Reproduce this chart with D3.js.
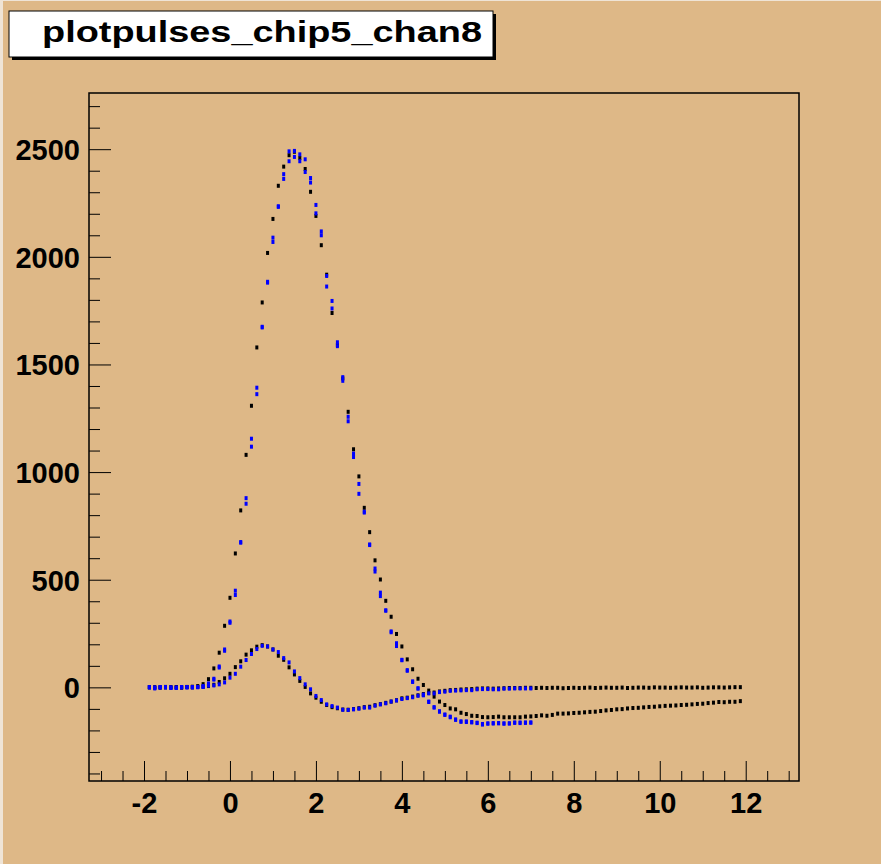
<!DOCTYPE html>
<html>
<head>
<meta charset="utf-8">
<script src="https://cdn.jsdelivr.net/npm/d3@7"></script>
<style>
  html, body { margin: 0; padding: 0; background: #DEB887; }
  svg { display: block; }
  .lbl { font-family: "Liberation Sans", Arial, Helvetica, sans-serif; font-weight: bold; }
</style>
</head>
<body>
<svg id="chart" width="881" height="864"></svg>
<script>
// Sample times (one sample every 1/8 unit)
const sampleTime = [
  -1.875,-1.75,-1.625,-1.5,-1.375,-1.25,-1.125,-1,-0.875,-0.75,-0.625,-0.5,-0.375,-0.25,-0.125,
  0,0.125,0.25,0.375,0.5,0.625,0.75,0.875,1,1.125,1.25,1.375,1.5,1.625,1.75,1.875,
  2,2.125,2.25,2.375,2.5,2.625,2.75,2.875,3,3.125,3.25,3.375,3.5,3.625,3.75,3.875,
  4,4.125,4.25,4.375,4.5,4.625,4.75,4.875,5,5.125,5.25,5.375,5.5,5.625,5.75,5.875,
  6,6.125,6.25,6.375,6.5,6.625,6.75,6.875,7,7.125,7.25,7.375,7.5,7.625,7.75,7.875,
  8,8.125,8.25,8.375,8.5,8.625,8.75,8.875,9,9.125,9.25,9.375,9.5,9.625,9.75,9.875,
  10,10.125,10.25,10.375,10.5,10.625,10.75,10.875,11,11.125,11.25,11.375,11.5,11.625,11.75,11.875
];

// Large pulse, black
const blackBig = [
  1,-2,0,2,-1,1,0,2,3,6,
  15,38,88,161,286,416,622,822,1080,1308,1579,1788,2018,2176,2330,2419,2472,2488,2459,2408,
  2302,2190,2054,1917,1739,1590,1435,1280,1106,980,834,721,590,501,402,328,248,190,130,84,
  40,11,-15,-43,-66,-82,-98,-102,-118,-124,-132,-133,-138,-139,-138,-136,-139,-139,-139,-139,
  -136,-135,-133,-130,-132,-128,-122,-122,-121,-119,-118,-116,-114,-113,-110,-107,-105,-102,-101,-98,
  -96,-95,-93,-91,-90,-88,-86,-85,-84,-82,-81,-79,-77,-76,-73,-71,-68,-69,-67,-67,-64
];

// Small pulse, black
const blackSmall = [
  0,1,-1,0,1,0,-1,1,0,2,
  3,6,12,25,42,63,94,121,152,172,189,196,190,176,147,128,93,60,30,2,
  -28,-48,-67,-82,-92,-97,-103,-104,-101,-97,-92,-90,-83,-78,-72,-66,-60,-51,-48,-43,
  -37,-31,-26,-24,-19,-16,-13,-12,-10,-9,-8,-6,-5,-5,-6,-5,-4,-3,-3,-3,
  -2,-2,-3,-2,-3,-2,-2,-4,-3,-2,-3,-2,-1,-3,-2,-1,-2,-2,-1,-3,
  -2,-1,-1,-2,0,-1,-1,-2,-1,0,-1,-1,0,-2,-1,0,0,-1,0,1,1
];

// Large pulse, blue (two passes)
const blueBigA = [
  0,-3,1,0,-2,-1,1,0,1,2,
  6,18,40,97,176,306,449,675,879,1155,1392,1675,1884,2089,2235,2384,2490,2492,2476,2453,
  2366,2241,2118,1911,1795,1603,1441,1257,1086,945,816,664,552,440,358,260,205,128,80,28,
  -4,-35,-66,-92,-111,-126,-136,-149,-158,-158,-161,-164,-173,-167,-166,-166,-167,-167,-163,-163,
  -163,-163
];
const blueBigB = [
  1,0,-1,1,0,-2,0,1,0,1,
  2,12,36,92,170,300,429,672,853,1118,1362,1672,1880,2069,2232,2362,2444,2464,2444,2394,
  2345,2202,2100,1862,1760,1585,1424,1236,1070,899,812,661,538,424,356,256,192,126,77,25,
  -6,-37,-68,-94,-113,-128,-139,-151,-160,-161,-163,-166,-170,-169,-168,-167,-169,-168,-165,-166,
  -165,-164
];

// Small pulse, blue
const blueSmall = [
  1,-5,1,1,-2,-2,1,1,1,1,
  3,8,9,14,23,45,63,96,127,155,178,193,190,176,164,136,116,74,43,14,
  -9,-40,-59,-79,-87,-94,-104,-105,-102,-99,-94,-94,-85,-79,-74,-66,-61,-54,-50,-46,
  -39,-34,-28,-28,-22,-20,-16,-15,-14,-13,-13,-9,-8,-8,-9,-9,-6,-6,-5,-5,
  -5,-5
];

const xMajorTicks = [-2, 0, 2, 4, 6, 8, 10, 12];
const xMinorTicks = [-3,-2.5,-1.5,-1,-0.5,0.5,1,1.5,2.5,3,3.5,4.5,5,5.5,6.5,7,7.5,8.5,9,9.5,10.5,11,11.5,12.5,13];
const yMajorTicks = [0, 500, 1000, 1500, 2000, 2500];
const yMinorTicks = [-400,-300,-200,-100,100,200,300,400,600,700,800,900,1100,1200,1300,1400,
                     1600,1700,1800,1900,2100,2200,2300,2400,2600,2700];

const titleText = "plotpulses_chip5_chan8";

const svg = d3.select("#chart");
const W = 881, H = 864;
const frame = { left: 89, top: 93, right: 799, bottom: 781 };

// Pad background and light bevel on the left/top edges
svg.append("rect").attr("width", W).attr("height", H).attr("fill", "#DEB887");
svg.append("rect").attr("x", 0).attr("y", 0).attr("width", 3).attr("height", H).attr("fill", "#EFE4D6");
svg.append("rect").attr("x", 0).attr("y", 0).attr("width", W).attr("height", 1).attr("fill", "#EFE4D6");

const x = d3.scaleLinear().domain([-3.28, 13.24]).range([frame.left, frame.right]);
const y = d3.scaleLinear().domain([-435, 2761]).range([frame.bottom, frame.top]);

// Plain ASCII hyphen for negative labels
const fmt = d => String(d);

// Axes: ticks point into the frame
const gx = svg.append("g").attr("transform", `translate(0,${frame.bottom})`);
gx.call(d3.axisBottom(x).tickValues(xMajorTicks).tickSize(-20).tickPadding(11.5).tickFormat(fmt));
const gxm = svg.append("g").attr("transform", `translate(0,${frame.bottom})`);
gxm.call(d3.axisBottom(x).tickValues(xMinorTicks).tickSize(-10).tickFormat(""));

const gy = svg.append("g").attr("transform", `translate(${frame.left},0)`);
gy.call(d3.axisLeft(y).tickValues(yMajorTicks).tickSize(-22).tickPadding(9).tickFormat(fmt));
const gym = svg.append("g").attr("transform", `translate(${frame.left},0)`);
gym.call(d3.axisLeft(y).tickValues(yMinorTicks).tickSize(-11).tickFormat(""));

svg.selectAll(".domain").remove();
svg.selectAll(".tick line").attr("stroke", "#000").attr("stroke-width", 1);
svg.selectAll(".tick text")
  .attr("class", "lbl")
  .attr("fill", "#000")
  .style("font-size", "29px");
gy.selectAll(".tick text").attr("dy", "0.36em");

// Frame
svg.append("rect")
  .attr("x", frame.left).attr("y", frame.top)
  .attr("width", frame.right - frame.left).attr("height", frame.bottom - frame.top)
  .attr("fill", "none").attr("stroke", "#000").attr("stroke-width", 1.5);

// Markers
function drawSeries(values, color) {
  const pts = values.map((v, k) => [sampleTime[k], v]);
  svg.append("g").selectAll("rect").data(pts).join("rect")
    .attr("x", d => x(d[0]) - 1.5)
    .attr("y", d => y(d[1]) - 2)
    .attr("width", 3).attr("height", 4)
    .attr("fill", color);
}
drawSeries(blackSmall, "#000");
drawSeries(blackBig, "#000");
drawSeries(blueSmall, "#0000FF");
drawSeries(blueBigB, "#0000FF");
drawSeries(blueBigA, "#0000FF");

// Title box with drop shadow
const tb = { x: 9, y: 11, w: 484, h: 46 };
svg.append("rect").attr("x", tb.x + 3).attr("y", tb.y + 3).attr("width", tb.w).attr("height", tb.h).attr("fill", "#000");
svg.append("rect").attr("x", tb.x).attr("y", tb.y).attr("width", tb.w).attr("height", tb.h)
  .attr("fill", "#FFFFFF").attr("stroke", "#000").attr("stroke-width", 1);
svg.append("text").attr("class", "lbl")
  .attr("x", 42).attr("y", 42)
  .attr("textLength", 440).attr("lengthAdjust", "spacingAndGlyphs")
  .style("font-size", "30px").attr("fill", "#000")
  .text(titleText);
</script>
</body>
</html>
